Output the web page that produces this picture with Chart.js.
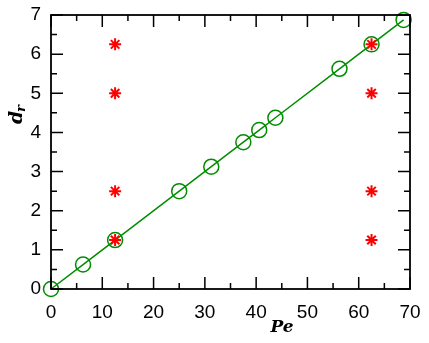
<!DOCTYPE html>
<html>
<head>
<meta charset="utf-8">
<script src="https://cdn.jsdelivr.net/npm/chart.js@4/dist/chart.umd.min.js"></script>
<style>
  html, body { margin: 0; padding: 0; background: #fff; }
  #wrap { width: 429px; height: 343px; }
</style>
</head>
<body>
<div id="wrap"><canvas id="chart" width="429" height="343"></canvas></div>
<script>
'use strict';

// simulation points (circles + fit line)
let pePoints = [0, 6.25, 12.5, 25, 31.25, 37.5, 40.6, 43.75, 56.25, 62.5, 68.75];
let drPoints = [0, 0.625, 1.25, 2.5, 3.125, 3.75, 4.06, 4.375, 5.625, 6.25, 6.875];

// red star points
let peStars = [12.5, 12.5, 12.5, 12.5, 62.5, 62.5, 62.5, 62.5];
let drStars = [1.25, 2.5, 5.0, 6.25, 1.25, 2.5, 5.0, 6.25];

let xTicks = [0, 10, 20, 30, 40, 50, 60, 70];
let yTicks = [0, 1, 2, 3, 4, 5, 6, 7];

const green = 'rgb(0,140,0)';
const red = 'rgb(255,0,0)';

function toXY(xs, ys) {
    let out = [];
    xs.forEach((x, i) => out.push({ x: x, y: ys[i] }));
    return out;
}

// inward ticks on all four sides, plus the frame
const frameTicks = {
    id: 'frameTicks',
    afterDatasetsDraw(chart) {
        const ctx = chart.ctx;
        const xs = chart.scales.x;
        const ys = chart.scales.y;
        const a = chart.chartArea;
        ctx.save();
        ctx.strokeStyle = '#000';
        ctx.lineWidth = 1.5;
        ctx.beginPath();
        for (let v = 0; v <= 70; v += 5) {
            let px = xs.getPixelForValue(v);
            let len = (v % 10 === 0) ? 12 : 6;
            ctx.moveTo(px, a.bottom); ctx.lineTo(px, a.bottom - len);
            ctx.moveTo(px, a.top); ctx.lineTo(px, a.top + len);
        }
        for (let v = 0; v <= 7; v += 0.5) {
            let py = ys.getPixelForValue(v);
            let len = (v % 1 === 0) ? 12 : 6;
            ctx.moveTo(a.left, py); ctx.lineTo(a.left + len, py);
            ctx.moveTo(a.right, py); ctx.lineTo(a.right - len, py);
        }
        ctx.stroke();
        ctx.lineWidth = 1.8;
        ctx.strokeRect(a.left, a.top, a.right - a.left, a.bottom - a.top);

        // axis titles
        ctx.fillStyle = '#000';
        ctx.font = 'italic bold 17px "DejaVu Serif", "Liberation Serif", serif';
        ctx.textAlign = 'center';
        ctx.textBaseline = 'middle';
        ctx.fillText('Pe', 282, 328);

        ctx.translate(17, 113);
        ctx.rotate(-Math.PI / 2);
        ctx.textAlign = 'left';
        ctx.font = 'italic bold 19px "DejaVu Serif", "Liberation Serif", serif';
        ctx.fillText('d', -11, 0);
        ctx.font = 'italic bold 13px "DejaVu Serif", "Liberation Serif", serif';
        ctx.fillText('r', 1, 5);
        ctx.restore();
    }
};

const canvasEl = document.getElementById('chart');

let chart = new Chart(canvasEl.getContext('2d'), {
    type: 'scatter',
    data: {
        datasets: [{
            label: 'stars',
            data: toXY(peStars, drStars),
            pointStyle: 'star',
            radius: 6,
            borderColor: red,
            backgroundColor: red,
            borderWidth: 2,
            showLine: false,
            clip: false,
            order: 0
        }, {
            label: 'dr',
            data: toXY(pePoints, drPoints),
            pointStyle: 'circle',
            radius: 7.5,
            borderColor: green,
            backgroundColor: 'rgba(0,0,0,0)',
            borderWidth: 1.5,
            showLine: true,
            borderJoinStyle: 'round',
            clip: false,
            order: 1
        }]
    },
    options: {
        responsive: false,
        animation: false,
        events: [],
        layout: { padding: { top: 15, right: 19, left: 1, bottom: 0 } },
        plugins: {
            legend: { display: false },
            tooltip: { enabled: false }
        },
        scales: {
            x: {
                type: 'linear',
                min: 0,
                max: 70,
                afterFit(scale) {
                    scale.height = 54;
                    scale.paddingLeft = 0;
                    scale.paddingRight = 0;
                },
                afterBuildTicks(scale) { scale.ticks = xTicks.map(v => ({ value: v })); },
                grid: { display: false, drawTicks: false },
                border: { display: false },
                ticks: {
                    padding: 12,
                    color: '#000',
                    maxRotation: 0,
                    font: { family: '"Liberation Sans", Arial, sans-serif', size: 19 }
                }
            },
            y: {
                type: 'linear',
                min: 0,
                max: 7,
                afterFit(scale) {
                    scale.width = 50;
                    scale.paddingTop = 0;
                    scale.paddingBottom = 0;
                },
                afterBuildTicks(scale) { scale.ticks = yTicks.map(v => ({ value: v })); },
                grid: { display: false, drawTicks: false },
                border: { display: false },
                ticks: {
                    padding: 10,
                    color: '#000',
                    font: { family: '"Liberation Sans", Arial, sans-serif', size: 19 }
                }
            }
        }
    },
    plugins: [frameTicks]
});
</script>
</body>
</html>
